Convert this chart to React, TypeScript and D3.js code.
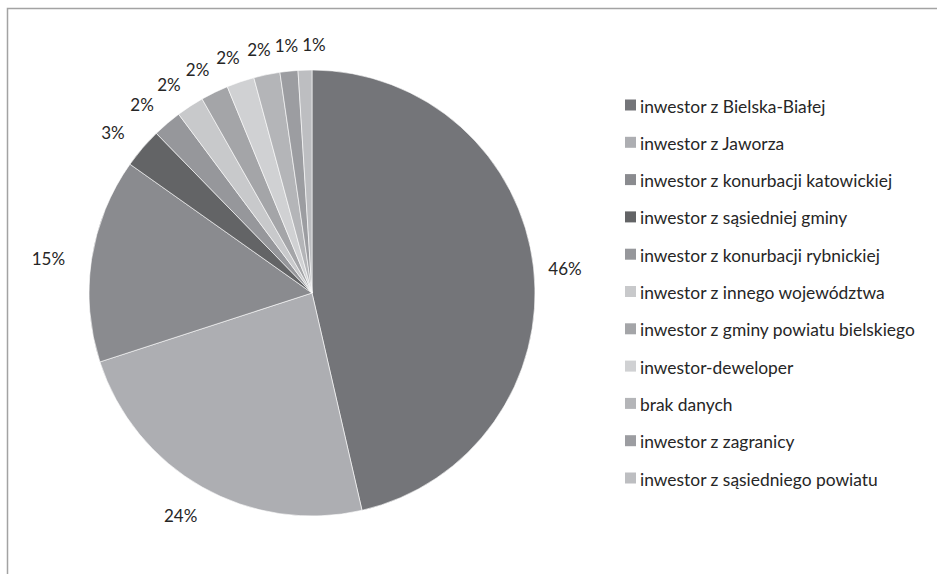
import * as d3 from "d3";
import { useEffect, useRef } from "react";

// categories in legend order (clockwise from 12 o'clock)
const categories = [
  "inwestor z Bielska-Białej",
  "inwestor z Jaworza",
  "inwestor z konurbacji katowickiej",
  "inwestor z sąsiedniej gminy",
  "inwestor z konurbacji rybnickiej",
  "inwestor z innego województwa",
  "inwestor z gminy powiatu bielskiego",
  "inwestor-deweloper",
  "brak danych",
  "inwestor z zagranicy",
  "inwestor z sąsiedniego powiatu",
];

// shares (percent)
const shares = [46.4, 23.6, 14.8, 2.9, 2.1, 2.0, 2.0, 2.0, 1.9, 1.3, 1.0];

// rounded labels as printed
const labels = ["46%", "24%", "15%", "3%", "2%", "2%", "2%", "2%", "2%", "1%", "1%"];

const greys = [
  "#747579",
  "#adaeb2",
  "#8a8b8f",
  "#636466",
  "#96979b",
  "#c8c9cb",
  "#a4a5a8",
  "#d0d1d3",
  "#b4b5b8",
  "#9c9da1",
  "#bdbec1",
];

const W = 937;
const H = 574;
const FONT = "Lato, 'Open Sans', sans-serif";

export default function App() {
  const svgRef = useRef<SVGSVGElement>(null);

  useEffect(() => {
    const svg = d3.select(svgRef.current).attr("width", W).attr("height", H);
    svg.selectAll("*").remove();

    // frame (top and left edges only are visible)
    svg
      .append("path")
      .attr("d", `M7.5,${H} L7.5,8.5 L${W},8.5`)
      .attr("fill", "none")
      .attr("stroke", "#a3a3a3")
      .attr("stroke-width", 1.5);

    const cx = 312;
    const cy = 293;
    const r = 223;

    const data = categories.map((name, i) => ({
      name,
      value: shares[i],
      label: labels[i],
      color: greys[i],
    }));

    const pie = d3
      .pie<(typeof data)[number]>()
      .value((d) => d.value)
      .sort(null)
      .startAngle(0)
      .endAngle(2 * Math.PI);

    const arc = d3.arc<d3.PieArcDatum<(typeof data)[number]>>().innerRadius(0).outerRadius(r);

    const g = svg.append("g").attr("transform", `translate(${cx},${cy})`);
    const arcs = pie(data);

    g.selectAll("path")
      .data(arcs)
      .join("path")
      .attr("d", arc)
      .attr("fill", (d) => d.data.color)
      .attr("stroke", "#ffffff")
      .attr("stroke-width", 0.6);

    // outside labels: anchor on a ring, then push the text box outward
    const ring = 238;
    const boxH = 16;
    const texts = g
      .selectAll("text")
      .data(arcs)
      .join("text")
      .attr("font-family", FONT)
      .attr("font-size", 17)
      .attr("fill", "#262626")
      .attr("text-anchor", "middle")
      .attr("dominant-baseline", "central")
      .text((d) => d.data.label);

    const pos: { x: number; y: number; w: number }[] = [];
    texts.each(function (d) {
      const a = (d.startAngle + d.endAngle) / 2;
      const s = Math.sin(a);
      const c = -Math.cos(a);
      const w = (this as SVGTextElement).getComputedTextLength();
      const extra = s < 0 ? 12 : 0;
      pos.push({
        x: s * (ring + extra) + (s * w) / 2,
        y: c * (ring + extra) + c * 2,
        w,
      });
    });

    // nudge neighbours apart so labels don't collide (like Excel does)
    for (let i = 1; i < pos.length; i++) {
      const p = pos[i - 1];
      const q = pos[i];
      const minDx = (p.w + q.w) / 2 + 4;
      if (Math.abs(q.y - p.y) < boxH && q.x - p.x < minDx && q.x >= p.x - 1) {
        q.x = p.x + minDx;
      }
    }

    texts.attr("x", (_, i) => pos[i].x).attr("y", (_, i) => pos[i].y + 3);

    // legend
    const legendY = d3.scalePoint<string>().domain(categories).range([105, 478]);

    const lg = svg
      .append("g")
      .selectAll("g")
      .data(data)
      .join("g")
      .attr("transform", (d) => `translate(625,${legendY(d.name)})`);

    lg.append("rect")
      .attr("x", 0)
      .attr("y", -5.5)
      .attr("width", 11)
      .attr("height", 11)
      .attr("fill", (d) => d.color);

    lg.append("text")
      .attr("x", 15)
      .attr("y", 1)
      .attr("dominant-baseline", "central")
      .attr("font-family", FONT)
      .attr("font-size", 17.4)
      .attr("fill", "#262626")
      .text((d) => d.name);
  }, []);

  return (
    <div style={{ position: "absolute", left: 0, top: 0, width: W, height: H, background: "#fff" }}>
      <svg ref={svgRef} style={{ display: "block" }} />
    </div>
  );
}
